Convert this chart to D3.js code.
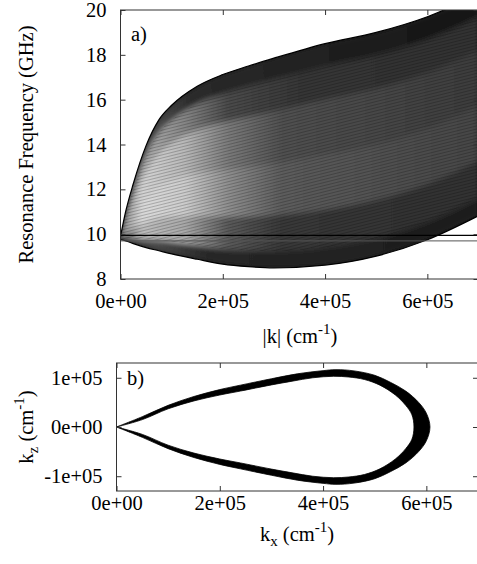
<!DOCTYPE html>
<html>
<head>
<meta charset="utf-8">
<script src="https://cdn.jsdelivr.net/npm/d3@7"></script>
<style>
  body { margin: 0; background: #fff; }
  svg text { font-family: "Liberation Serif", "Times New Roman", serif; font-size: 20.5px; fill: #000; }
</style>
</head>
<body>
<svg id="chart" width="477" height="564"></svg>
<script>
// ---- panel a: dispersion family, read at these |k| values (cm^-1)
const kGrid = [0, 1e4, 2.5e4, 5e4, 7.5e4, 1e5, 1.5e5, 2e5, 2.5e5, 3e5, 4e5, 5e5, 6e5, 7e5];

// frequencies (GHz) of a few members of the curve family, lowest to highest
const curveLow  = [9.75, 9.70, 9.58, 9.40, 9.26, 9.12, 8.88, 8.66, 8.55, 8.50, 8.62, 9.02, 9.75, 10.82];
const curveA    = [9.76, 9.80, 9.79, 9.76, 9.73, 9.65, 9.50, 9.34, 9.27, 9.25, 9.41, 9.82, 10.55, 11.61];
const curveB    = [9.79, 10.03, 10.25, 10.54, 10.72, 10.78, 10.81, 10.78, 10.79, 10.84, 11.09, 11.52, 12.24, 13.29];
const curveC    = [9.83, 10.35, 10.92, 11.68, 12.18, 12.44, 12.74, 12.89, 13.03, 13.18, 13.56, 14.01, 14.73, 15.76];
const curveD    = [9.86, 10.68, 11.58, 12.81, 13.64, 14.09, 14.67, 15.01, 15.26, 15.51, 16.03, 16.51, 17.21, 18.23];
const curveE    = [9.89, 10.87, 11.98, 13.50, 14.52, 15.09, 15.83, 16.27, 16.61, 16.92, 17.51, 18.00, 18.71, 19.71];
const curveHigh = [9.90, 11.00, 12.25, 13.95, 15.10, 15.75, 16.60, 17.12, 17.50, 17.85, 18.50, 19.00, 19.70, 20.70];

// the two horizontal frequency markers (GHz)
const markerFreqs = [9.95, 9.70];

const kTicks = [0, 2e5, 4e5, 6e5];
const kTickLabels = ["0e+00", "2e+05", "4e+05", "6e+05"];
const freqTicks = [8, 10, 12, 14, 16, 18, 20];

// ---- panel b: isofrequency contour (upper half, mirrored below)
const outerKx = [0, 0.5e5, 1e5, 1.5e5, 2e5, 2.4e5, 3e5, 3.5e5, 4e5, 4.25e5, 4.6e5, 5e5, 5.3e5, 5.6e5, 5.85e5, 6e5, 6.07e5];
const outerKz = [0, 0.21e5, 0.44e5, 0.62e5, 0.76e5, 0.85e5, 0.98e5, 1.08e5, 1.145e5, 1.165e5, 1.14e5, 1.05e5, 0.91e5, 0.73e5, 0.5e5, 0.28e5, 0];
const innerKx = [0, 0.5e5, 1e5, 1.5e5, 2e5, 2.4e5, 3e5, 3.4e5, 3.8e5, 4.2e5, 4.5e5, 4.8e5, 5.1e5, 5.4e5, 5.6e5, 5.72e5, 5.76e5];
const innerKz = [0, 0.15e5, 0.37e5, 0.53e5, 0.65e5, 0.73e5, 0.855e5, 0.93e5, 1.0e5, 1.03e5, 1.015e5, 0.965e5, 0.85e5, 0.65e5, 0.44e5, 0.25e5, 0];

const kzTicks = [-1e5, 0, 1e5];
const kzTickLabels = ["-1e+05", "0e+00", "1e+05"];

// shading of the space between neighbouring curves (left -> right along k)
const bandTones = [
  [[0, "#3a3a3a"], [0.1, "#4a4a4a"], [0.25, "#262626"], [1, "#1c1c1c"]],
  [[0, "#555"], [0.06, "#bcbcbc"], [0.18, "#a8a8a8"], [0.3, "#5a5a5a"], [0.45, "#383838"], [1, "#303030"]],
  [[0, "#888"], [0.06, "#dadada"], [0.18, "#cccccc"], [0.3, "#8e8e8e"], [0.45, "#5c5c5c"], [1, "#454545"]],
  [[0, "#888"], [0.06, "#d4d4d4"], [0.18, "#b8b8b8"], [0.3, "#7a7a7a"], [0.45, "#505050"], [1, "#3c3c3c"]],
  [[0, "#777"], [0.06, "#b0b0b0"], [0.18, "#858585"], [0.3, "#4a4a4a"], [0.5, "#363636"], [1, "#303030"]],
  [[0, "#555"], [0.08, "#555"], [0.2, "#2a2a2a"], [1, "#141414"]],
];

const panelA = { left: 120.5, right: 478.5, top: 10, bottom: 279 };
const panelB = { left: 116.5, right: 478, top: 363, bottom: 491 };
const tickLen = 5;

const svg = d3.select("#chart");
const defs = svg.append("defs");

const xA = d3.scaleLinear().domain([0, 7e5]).range([panelA.left, panelA.right]);
const yA = d3.scaleLinear().domain([8, 20]).range([panelA.bottom, panelA.top]);
const xB = d3.scaleLinear().domain([0, 7e5]).range([panelB.left, panelB.right]);
const yB = d3.scaleLinear().domain([-1.3e5, 1.3e5]).range([panelB.bottom, panelB.top]);

defs.append("clipPath").attr("id", "clipA")
  .append("rect")
  .attr("x", panelA.left).attr("y", panelA.top)
  .attr("width", panelA.right - panelA.left).attr("height", panelA.bottom - panelA.top);

// gnuplot-ish frame with inward ticks on all four sides
function drawFrame(p, x, y, xTicks, xLabels, yTicks, yLabels, xPad) {
  const g = svg.append("g");

  const bottom = g.append("g")
    .attr("transform", `translate(0,${p.bottom})`)
    .call(d3.axisBottom(x).tickValues(xTicks).tickFormat((d, i) => xLabels[i])
      .tickSizeInner(-tickLen).tickSizeOuter(0).tickPadding(xPad));
  const top = g.append("g")
    .attr("transform", `translate(0,${p.top})`)
    .call(d3.axisTop(x).tickValues(xTicks).tickFormat("")
      .tickSizeInner(-tickLen).tickSizeOuter(0));
  const left = g.append("g")
    .attr("transform", `translate(${p.left},0)`)
    .call(d3.axisLeft(y).tickValues(yTicks).tickFormat((d, i) => yLabels[i])
      .tickSizeInner(-tickLen).tickSizeOuter(0).tickPadding(14));
  const right = g.append("g")
    .attr("transform", `translate(${p.right},0)`)
    .call(d3.axisRight(y).tickValues(yTicks).tickFormat("")
      .tickSizeInner(-tickLen).tickSizeOuter(0));

  [bottom, top, left, right].forEach((a) => {
    a.attr("font-family", null).attr("font-size", null);
    a.select(".domain").remove();
    a.selectAll(".tick line").attr("stroke", "#333");
  });
  g.selectAll("text").attr("fill", "#000");

  g.append("rect")
    .attr("x", p.left).attr("y", p.top)
    .attr("width", p.right - p.left).attr("height", p.bottom - p.top)
    .attr("fill", "none").attr("stroke", "#333").attr("stroke-width", 1);
}

// ---------------- panel a ----------------
const curves = [curveLow, curveA, curveB, curveC, curveD, curveE, curveHigh];

const bandArea = d3.area()
  .x((d) => xA(d.k))
  .y0((d) => yA(d.lo))
  .y1((d) => yA(d.hi))
  .curve(d3.curveMonotoneX);

const rowsBetween = (lo, hi) => kGrid.map((k, j) => ({ k: k, lo: lo[j], hi: hi[j] }));

bandTones.forEach((stops, i) => {
  const grad = defs.append("linearGradient")
    .attr("id", "band" + i)
    .attr("gradientUnits", "userSpaceOnUse")
    .attr("x1", xA(0)).attr("x2", xA(7e5)).attr("y1", 0).attr("y2", 0);
  grad.selectAll("stop").data(stops).join("stop")
    .attr("offset", (d) => d[0])
    .attr("stop-color", (d) => d[1]);
});

// whole family outline, used to keep the softened shading inside it
defs.append("clipPath").attr("id", "familyClip")
  .append("path")
  .datum(rowsBetween(curveLow, curveHigh))
  .attr("d", bandArea);

defs.append("filter").attr("id", "soften")
  .append("feGaussianBlur").attr("stdDeviation", 2.5);

// fine striping to imitate the densely packed curves
const stripes = defs.append("pattern")
  .attr("id", "stripes")
  .attr("patternUnits", "userSpaceOnUse")
  .attr("width", 6).attr("height", 3)
  .attr("patternTransform", "rotate(-14)");
stripes.append("rect").attr("width", 6).attr("height", 1).attr("fill", "#000");

const plotA = svg.append("g").attr("clip-path", "url(#clipA)");
const family = plotA.append("g").attr("clip-path", "url(#familyClip)");

// dark base so the softened edges blend into black, not white
family.append("path")
  .datum(rowsBetween(curveLow, curveHigh))
  .attr("d", bandArea)
  .attr("fill", "#1c1c1c");

const shade = family.append("g").attr("filter", "url(#soften)");

d3.pairs(curves).forEach(([lo, hi], i) => {
  shade.append("path")
    .datum(rowsBetween(lo, hi))
    .attr("d", bandArea)
    .attr("fill", `url(#band${i})`)
    .attr("stroke", `url(#band${i})`)
    .attr("stroke-width", 0.6);
});

family.append("path")
  .datum(rowsBetween(curveA, curveE))
  .attr("d", bandArea)
  .attr("fill", "url(#stripes)")
  .attr("opacity", 0.22);

// darker edges of the family
const edgeLine = d3.line()
  .x((d, j) => xA(kGrid[j]))
  .y((d) => yA(d))
  .curve(d3.curveMonotoneX);
plotA.selectAll("path.edge")
  .data([curveLow, curveHigh])
  .join("path")
  .attr("class", "edge")
  .attr("d", edgeLine)
  .attr("fill", "none")
  .attr("stroke", "#000")
  .attr("stroke-width", 1.2);

plotA.selectAll("line.marker")
  .data(markerFreqs)
  .join("line")
  .attr("class", "marker")
  .attr("x1", panelA.left).attr("x2", panelA.right)
  .attr("y1", (d) => yA(d)).attr("y2", (d) => yA(d))
  .attr("stroke", (d, i) => (i === 0 ? "#000" : "#555"))
  .attr("stroke-width", (d, i) => (i === 0 ? 1.2 : 1));

drawFrame(panelA, xA, yA, kTicks, kTickLabels, freqTicks, freqTicks.map(String), 14);

svg.append("text").attr("x", 131).attr("y", 41).text("a)");

// x title: |k| (cm^-1)
const titleA = svg.append("text")
  .attr("x", 300).attr("y", 343)
  .attr("text-anchor", "middle");
titleA.append("tspan").text("|k| (cm");
titleA.append("tspan").attr("dy", -9).attr("font-size", "15px").text("-1");
titleA.append("tspan").attr("dy", 9).text(")");

svg.append("text")
  .attr("transform", `translate(33,${(panelA.top + panelA.bottom) / 2}) rotate(-90)`)
  .attr("text-anchor", "middle")
  .text("Resonance Frequency (GHz)");

// ---------------- panel b ----------------
const contourLine = d3.line()
  .x((d) => xB(d[0]))
  .y((d) => yB(d[1]))
  .curve(d3.curveCatmullRom.alpha(0.5));

function closedContour(kx, kz) {
  const upper = kx.map((k, i) => [k, kz[i]]);
  const lower = kx.map((k, i) => [k, -kz[i]]).reverse().slice(1);
  return contourLine(upper.concat(lower)) + "Z";
}

svg.append("path")
  .attr("d", closedContour(outerKx, outerKz) + closedContour(innerKx, innerKz))
  .attr("fill", "#000")
  .attr("fill-rule", "evenodd")
  .attr("stroke", "#000")
  .attr("stroke-width", 0.8);

drawFrame(panelB, xB, yB, kTicks, kTickLabels, kzTicks, kzTickLabels, 4);

svg.append("text").attr("x", 127).attr("y", 385).text("b)");

const titleBx = svg.append("text")
  .attr("x", 297).attr("y", 541)
  .attr("text-anchor", "middle");
titleBx.append("tspan").text("k");
titleBx.append("tspan").attr("dy", 5).attr("font-size", "15px").text("x");
titleBx.append("tspan").attr("dy", -5).text(" (cm");
titleBx.append("tspan").attr("dy", -9).attr("font-size", "15px").text("-1");
titleBx.append("tspan").attr("dy", 9).text(")");

const titleBy = svg.append("text")
  .attr("transform", `translate(33,${(panelB.top + panelB.bottom) / 2}) rotate(-90)`)
  .attr("text-anchor", "middle");
titleBy.append("tspan").text("k");
titleBy.append("tspan").attr("dy", 5).attr("font-size", "15px").text("z");
titleBy.append("tspan").attr("dy", -5).text(" (cm");
titleBy.append("tspan").attr("dy", -9).attr("font-size", "15px").text("-1");
titleBy.append("tspan").attr("dy", 9).text(")");
</script>
</body>
</html>
